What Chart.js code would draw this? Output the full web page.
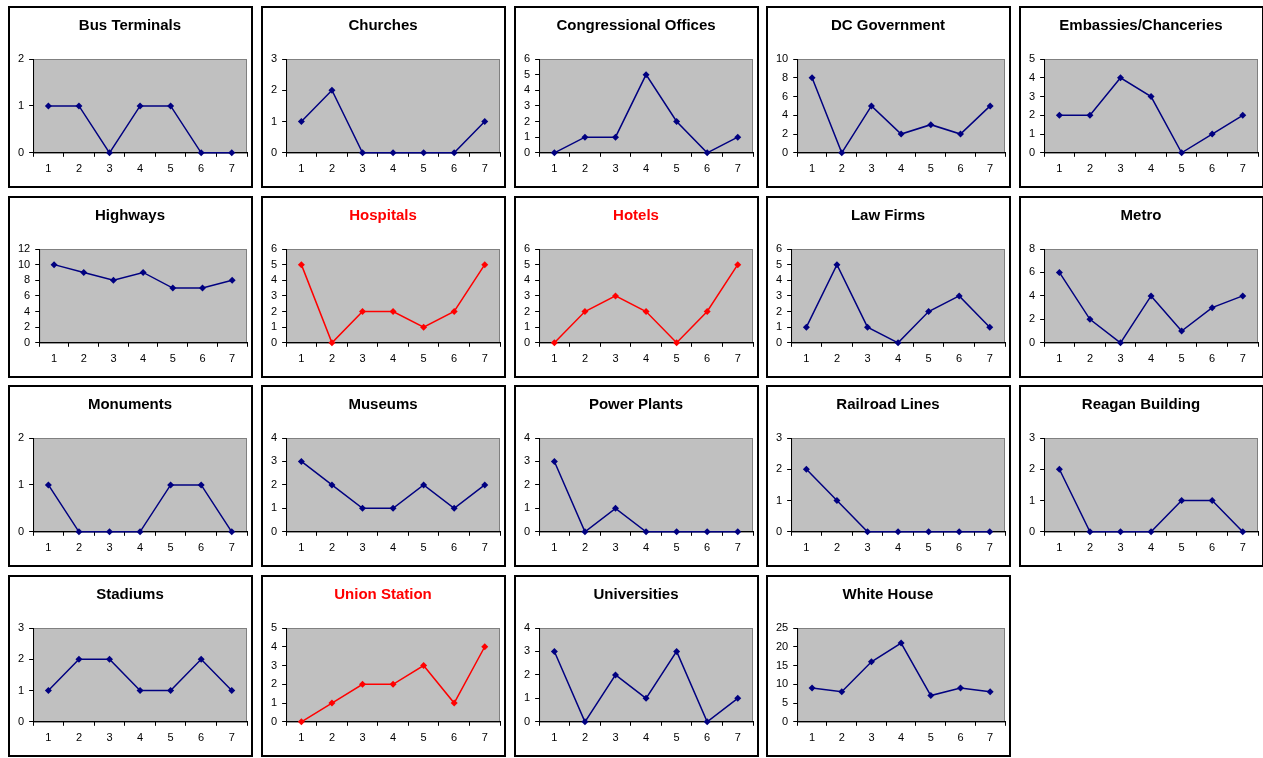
<!DOCTYPE html>
<html>
<head>
<meta charset="utf-8">
<script src="https://cdn.jsdelivr.net/npm/chart.js@4"></script>
<style>
  html, body { margin: 0; padding: 0; background: #fff; overflow: hidden; }
  .panel { position: absolute; width: 245px; height: 182px; box-sizing: border-box; border: 2px solid #000; background: #fff; }
  .panel canvas { display: block; }
</style>
</head>
<body>
<script>
const categories = ['1', '2', '3', '4', '5', '6', '7']

const titles = [
  'Bus Terminals', 'Churches', 'Congressional Offices', 'DC Government', 'Embassies/Chanceries',
  'Highways', 'Hospitals', 'Hotels', 'Law Firms', 'Metro',
  'Monuments', 'Museums', 'Power Plants', 'Railroad Lines', 'Reagan Building',
  'Stadiums', 'Union Station', 'Universities', 'White House'
]

const busTerminals = [1, 1, 0, 1, 1, 0, 0]
const churches = [1, 2, 0, 0, 0, 0, 1]
const congressionalOffices = [0, 1, 1, 5, 2, 0, 1]
const dcGovernment = [8, 0, 5, 2, 3, 2, 5]
const embassies = [2, 2, 4, 3, 0, 1, 2]
const highways = [10, 9, 8, 9, 7, 7, 8]
const hospitals = [5, 0, 2, 2, 1, 2, 5]
const hotels = [0, 2, 3, 2, 0, 2, 5]
const lawFirms = [1, 5, 1, 0, 2, 3, 1]
const metro = [6, 2, 0, 4, 1, 3, 4]
const monuments = [1, 0, 0, 0, 1, 1, 0]
const museums = [3, 2, 1, 1, 2, 1, 2]
const powerPlants = [3, 0, 1, 0, 0, 0, 0]
const railroadLines = [2, 1, 0, 0, 0, 0, 0]
const reaganBuilding = [2, 0, 0, 0, 1, 1, 0]
const stadiums = [1, 2, 2, 1, 1, 2, 1]
const unionStation = [0, 1, 2, 2, 3, 1, 4]
const universities = [3, 0, 2, 1, 3, 0, 1]
const whiteHouse = [9, 8, 16, 21, 7, 9, 8]

const series = [
  busTerminals, churches, congressionalOffices, dcGovernment, embassies,
  highways, hospitals, hotels, lawFirms, metro,
  monuments, museums, powerPlants, railroadLines, reaganBuilding,
  stadiums, unionStation, universities, whiteHouse
]

// y axis top and step for each chart
const yMax = [2, 3, 6, 10, 5, 12, 6, 6, 6, 8, 2, 4, 4, 3, 3, 3, 5, 4, 25]
const yStep = [1, 1, 1, 2, 1, 2, 1, 1, 1, 2, 1, 1, 1, 1, 1, 1, 1, 1, 5]

const highlighted = ['Hospitals', 'Hotels', 'Union Station']

const plotBackground = {
  id: 'plotBackground',
  beforeDraw(chart) {
    const { ctx, chartArea: a } = chart
    ctx.save()
    ctx.fillStyle = '#c0c0c0'
    ctx.fillRect(a.left, a.top, a.right - a.left, a.bottom - a.top)
    ctx.strokeStyle = '#808080'
    ctx.lineWidth = 1
    ctx.strokeRect(a.left + 0.5, a.top + 0.5, a.right - a.left - 1, a.bottom - a.top)
    ctx.restore()
  }
}

const font = "'Liberation Sans', Arial, sans-serif"

titles.forEach((title, i) => {
  const col = i % 5
  const row = Math.floor(i / 5)
  const panel = document.createElement('div')
  panel.className = 'panel'
  panel.style.left = Math.round(8 + col * 252.8) + 'px'
  panel.style.top = Math.round(6 + row * 189.7) + 'px'
  const canvas = document.createElement('canvas')
  panel.appendChild(canvas)
  document.body.appendChild(panel)

  const color = highlighted.includes(title) ? '#ff0000' : '#000080'

  new Chart(canvas.getContext('2d'), {
    type: 'line',
    data: {
      labels: categories,
      datasets: [{
        data: series[i],
        borderColor: color,
        backgroundColor: color,
        borderWidth: 1.5,
        pointStyle: 'rectRot',
        pointRadius: 3.5,
        pointBorderWidth: 0,
        tension: 0,
        clip: false
      }]
    },
    options: {
      responsive: true,
      maintainAspectRatio: false,
      animation: false,
      events: [],
      layout: { padding: { left: 3, right: 4, bottom: 4, top: 0 } },
      plugins: {
        legend: { display: false },
        tooltip: { enabled: false },
        title: {
          display: true,
          text: title,
          color: color === '#ff0000' ? '#ff0000' : '#000',
          font: { family: font, size: 15, weight: 'bold' },
          padding: { top: 9, bottom: 24 }
        }
      },
      scales: {
        x: {
          offset: true,
          grid: { offset: true, drawOnChartArea: false, drawTicks: true, tickLength: 4, color: '#000' },
          border: { display: true, color: '#000', width: 1 },
          ticks: { color: '#000', font: { family: font, size: 11 }, padding: 6, maxRotation: 0, autoSkip: false }
        },
        y: {
          min: 0,
          max: yMax[i],
          grid: { drawOnChartArea: false, drawTicks: true, tickLength: 4, color: '#000' },
          border: { display: true, color: '#000', width: 1 },
          ticks: { stepSize: yStep[i], color: '#000', font: { family: font, size: 11 }, padding: 5, autoSkip: false }
        }
      }
    },
    plugins: [plotBackground]
  })
})
</script>
</body>
</html>
